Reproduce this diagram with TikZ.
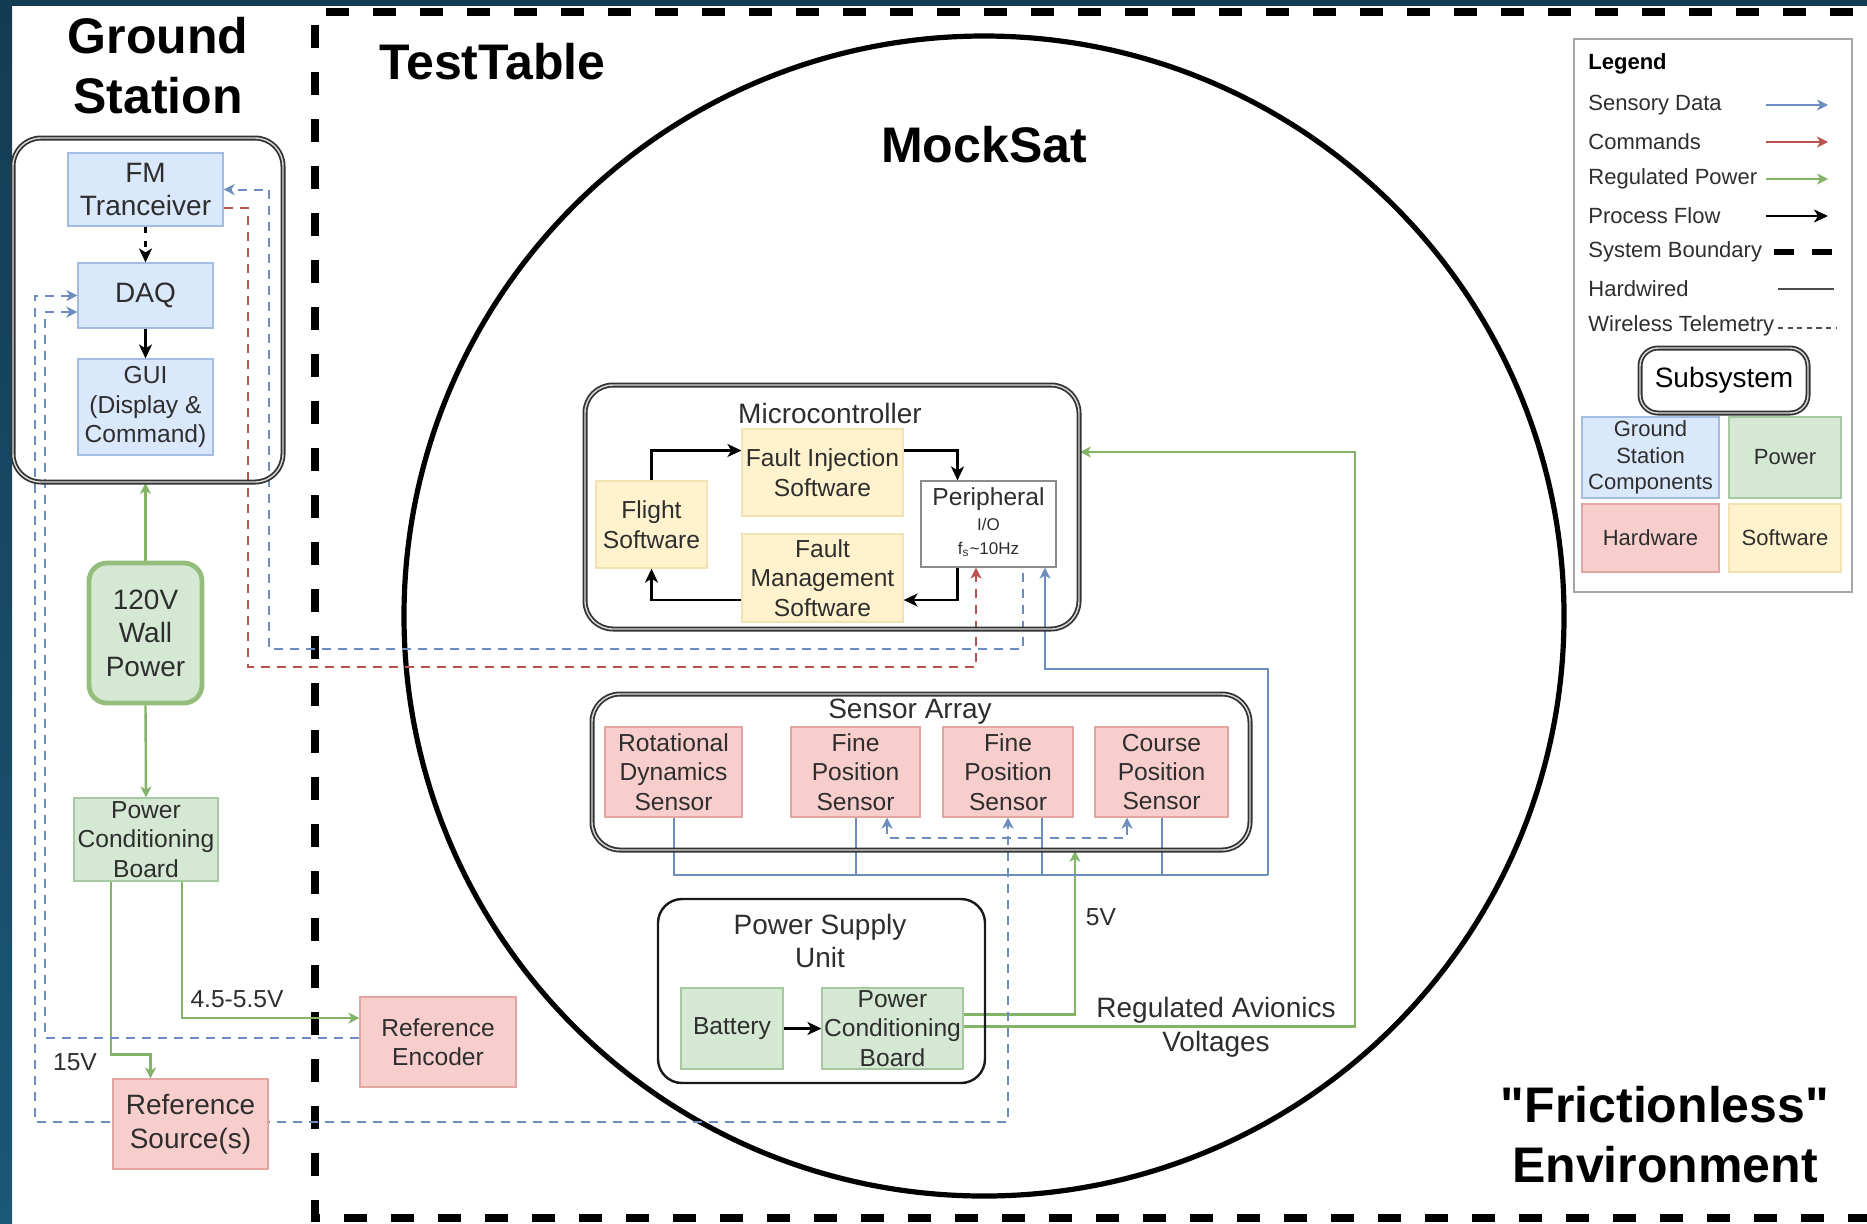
\documentclass[tikz,border=0pt]{standalone}
\usepackage{fontspec}
\setmainfont{Liberation Sans}[Ligatures=TeXOff]
\usetikzlibrary{arrows.meta,calc}
\pgfdeclarelayer{back}
\pgfdeclarelayer{wires}
\pgfsetlayers{back,wires,main}

\definecolor{frameA}{HTML}{133C53}
\definecolor{frameB}{HTML}{1B5778}
\definecolor{txtc}{HTML}{2E2E2E}
\definecolor{gsfill}{HTML}{DAE8FC}
\definecolor{gsline}{HTML}{A3BCDF}
\definecolor{pwfill}{HTML}{D5E8D4}
\definecolor{pwline}{HTML}{A6C9A2}
\definecolor{hwfill}{HTML}{F8CECC}
\definecolor{hwline}{HTML}{E2A6A2}
\definecolor{swfill}{HTML}{FFF2CC}
\definecolor{swline}{HTML}{F3E2B2}
\definecolor{sensc}{HTML}{6C8EBF}
\definecolor{cmdc}{HTML}{B85450}
\definecolor{pwrc}{HTML}{82B366}

\newcommand\ftitle{\fontsize{25}{30}\selectfont\bfseries}
\newcommand\fmed{\fontsize{14}{16.8}\selectfont}
\newcommand\fsml{\fontsize{12.3}{14.7}\selectfont}
\newcommand\fleg{\fontsize{11}{13.2}\selectfont}
\newcommand\ftny{\fontsize{8.5}{10}\selectfont}

\tikzset{
  txt/.style={text=txtc, align=center, inner sep=0pt},
  ttl/.style={text=black, align=center, inner sep=0pt, font=\ftitle},
  subt/.style={txt, font=\fmed},
  cbox/.style={txt, font=\fsml, line width=0.6pt},
  gsb/.style={cbox, fill=gsfill, draw=gsline},
  pwb/.style={cbox, fill=pwfill, draw=pwline},
  hwb/.style={cbox, fill=hwfill, draw=hwline},
  swb/.style={cbox, fill=swfill, draw=swline},
  subsys/.style={draw=black!80, double=black!15, double distance=0.7pt,
                 line width=0.9pt, rounded corners=14pt, inner sep=0pt},
  psubox/.style={draw=black!90, line width=1.2pt, rounded corners=12pt, inner sep=0pt},
  wallbox/.style={draw=pwrc!85, line width=2.4pt, rounded corners=9pt},
  ltxt/.style={text=txtc, inner sep=0pt, anchor=west, font=\fleg},
  stip/.tip={Stealth[length=5.5pt,width=5.5pt,inset=1.6pt]},
  btip/.tip={Stealth[length=7pt,width=6.5pt,inset=2pt]},
  sens/.style={draw=sensc, line width=1pt},
  cmd/.style={draw=cmdc, line width=1pt},
  pwr/.style={draw=pwrc, line width=1.2pt, -stip},
  wless/.style={dash pattern=on 4.5pt off 3.5pt},
  proc/.style={draw=black, line width=1.3pt, -btip},
  sysb/.style={draw=black, line width=3.6pt, dash pattern=on 11.5pt off 12pt},
}

\begin{document}
\begin{tikzpicture}[x=0.5pt,y=-0.5pt]
\useasboundingbox (0,0) rectangle (1867,1223);
\clip (0,0) rectangle (1867,1223);

% ---------- page, frame, boundary, satellite outline ----------
\begin{pgfonlayer}{back}
  \fill[white] (0,0) rectangle (1867,1223);
  \shade[top color=frameA, bottom color=frameB] (0,0) rectangle (12,1223);
  \fill[frameA] (0,0) rectangle (1867,6);
  \draw[sysb] (1900,12) -- (315,12) -- (315,1218) -- (1900,1218);
  \draw[line width=2.6pt] (984,616) circle [radius=580];
\end{pgfonlayer}

% ---------- titles ----------
\node[ttl] (tgs) at (158,65.5) {Ground\\Station};
\node[ttl, anchor=west] (ttt) at (379,62) {TestTable};
\node[ttl] (tms) at (984,145) {MockSat};
\node[ttl] (tfe) at (1665,1135) {"Frictionless"\\Environment};

% ---------- ground station ----------
\node[subsys, minimum width=135pt, minimum height=172pt] (gs) at (148,310) {};
\node[gsb, font=\fmed, minimum width=77.5pt, minimum height=36.5pt] (fm) at (145.5,189.5) {FM\\Tranceiver};
\node[gsb, font=\fmed, minimum width=67.5pt, minimum height=32.5pt] (daq) at (145.5,295.5) {DAQ};
\node[gsb, minimum width=67.5pt, minimum height=48pt] (gui) at (145.5,407) {GUI\\(Display \&\\Command)};

\node[pwb, wallbox, font=\fmed, minimum width=56.5pt, minimum height=70pt] (wall) at (145.5,633) {120V\\Wall\\Power};
\node[pwb, minimum width=72pt, minimum height=41.5pt] (pcba) at (146,839.5) {Power\\Conditioning\\Board};
\node[hwb, minimum width=78pt, minimum height=45pt] (renc) at (438,1042) {Reference\\Encoder};
\node[hwb, font=\fmed, minimum width=77.5pt, minimum height=45pt] (rsrc) at (190.5,1124) {Reference\\Source(s)};

\node[txt, font=\fsml] (l45) at (237,999) {4.5-5.5V};
\node[txt, font=\fsml] (l15) at (75,1062) {15V};

% ---------- microcontroller ----------
\node[subsys, minimum width=247pt, minimum height=122pt] (mc) at (832,507) {};
\node[subt] (mct) at (830,413) {Microcontroller};
\node[swb, minimum width=55.5pt, minimum height=43.5pt] (fsw) at (651.5,524.5) {Flight\\Software};
\node[swb, minimum width=80.5pt, minimum height=43.5pt] (fis) at (822.5,472.5) {Fault Injection\\Software};
\node[swb, minimum width=80.5pt, minimum height=44pt] (fms) at (822.5,578) {Fault\\Management\\Software};
\node[draw=black!45, fill=white, line width=0.6pt, minimum width=67.5pt, minimum height=43pt] (pio) at (988.5,524) {};
\node[txt, font=\fsml] (piot) at (988.5,499) {Peripheral};
\node[txt, font=\ftny] (pioa) at (988.5,524) {I/O};
\node[txt, font=\ftny] (piob) at (988.5,549) {f\textsubscript{s}\textasciitilde10Hz};

% ---------- sensor array ----------
\node[subsys, minimum width=329pt, minimum height=78pt] (sa) at (921,772) {};
\node[subt] (sat) at (910,712) {Sensor Array};
\node[hwb, minimum width=68.5pt, minimum height=45pt] (rds) at (673.5,772) {Rotational\\Dynamics\\Sensor};
\node[hwb, minimum width=64.5pt, minimum height=45pt] (fpa) at (855.5,772) {Fine\\Position\\Sensor};
\node[hwb, minimum width=65pt, minimum height=45pt] (fpb) at (1008,772) {Fine\\Position\\Sensor};
\node[hwb, minimum width=66.5pt, minimum height=45pt] (cps) at (1161.5,772) {Course\\Position\\Sensor};

% ---------- power supply unit ----------
\node[psubox, minimum width=163.5pt, minimum height=92pt] (psu) at (821.5,991) {};
\node[subt] (psut) at (820,941) {Power Supply\\Unit};
\node[pwb, minimum width=51pt, minimum height=40.5pt] (bat) at (732,1028.5) {Battery};
\node[pwb, minimum width=70.5pt, minimum height=40.5pt] (pcbb) at (892.5,1028.5) {Power\\Conditioning\\Board};

\node[txt, font=\fsml] (l5) at (1101,917) {5V};
\node[txt, font=\fmed] (lra) at (1216,1027) {Regulated Avionics\\Voltages};

% ---------- legend ----------
\node[draw=gray!70, line width=1.4pt, fill=white, minimum width=139pt, minimum height=276.5pt] (leg) at (1713,315.5) {};
\node[ltxt, font=\fleg\bfseries, text=black] (lgt) at (1588,64) {Legend};
\node[ltxt] (lsd) at (1588,105) {Sensory Data};
\node[ltxt] (lcm) at (1588,142) {Commands};
\node[ltxt] (lrp) at (1588,179) {Regulated Power};
\node[ltxt] (lpf) at (1588,216) {Process Flow};
\node[ltxt] (lsb) at (1588,252) {System Boundary};
\node[ltxt] (lhw) at (1588,289) {Hardwired};
\node[ltxt] (lwt) at (1588,326) {Wireless Telemetry};
\coordinate (ka) at (1766,0);
\coordinate (kb) at (1828,0);
\draw[sens, -stip] (ka |- lsd) -- (kb |- lsd);
\draw[cmd, -stip] (ka |- lcm) -- (kb |- lcm);
\draw[pwr] (ka |- lrp) -- (kb |- lrp);
\draw[black, line width=1.1pt, -btip] (ka |- lpf) -- (kb |- lpf);
\draw[black, line width=3pt, dash pattern=on 10pt off 9pt] ($(ka |- lsb)+(8,0)$) -- ($(kb |- lsb)+(6,0)$);
\draw[black!70, line width=1pt] ($(ka |- lhw)+(12,0)$) -- ($(kb |- lhw)+(6,0)$);
\draw[black!70, line width=0.8pt, dash pattern=on 2.6pt off 2.2pt] ($(ka |- lwt)+(12,2)$) -- ($(kb |- lwt)+(8,2)$);
\node[subsys, rounded corners=9pt, font=\fmed, text=black, minimum width=84pt, minimum height=32.5pt] (lsub) at (1724,380.5) {Subsystem};
\node[gsb, font=\fleg, minimum width=68.5pt, minimum height=40.5pt] (lgs) at (1650.5,457.5) {Ground\\Station\\Components};
\node[pwb, font=\fleg, minimum width=56pt, minimum height=40.5pt] (lpw) at (1785,457.5) {Power};
\node[hwb, font=\fleg, minimum width=68.5pt, minimum height=34pt] (lhd) at (1650.5,538) {Hardware};
\node[swb, font=\fleg, minimum width=56pt, minimum height=34pt] (lsw) at (1785,538) {Software};

% ---------- connectors ----------
\coordinate (tb) at (269,649);
\coordinate (tr) at (248,667);
\coordinate (ob) at (35,1122);
\coordinate (ib) at (45,1038);
\coordinate (sd) at (1127,838);
\coordinate (bus) at (1268,875);
\coordinate (bust) at (1268,669);
\coordinate (rv) at (1355,452);

\begin{pgfonlayer}{wires}
  % process flow
  \draw[proc, dash pattern=on 3pt off 4pt] (fm.south) -- (daq.north);
  \draw[proc] (daq.south) -- (gui.north);
  \draw[proc] (fsw.north) |- ($(fis.west)+(0,-22)$);
  \draw[proc] ($(fis.east)+(0,-22)$) -| ($(pio.north)+(-31,0)$);
  \draw[proc] ($(pio.south)+(-31,0)$) |- ($(fms.east)+(0,22)$);
  \draw[proc] ($(fms.west)+(0,22)$) -| (fsw.south);
  \draw[proc] (bat) -- (pcbb);

  % regulated power
  \draw[pwr] (wall.north) -- (wall.north |- gs.south);
  \draw[pwr] (wall.south) -- (pcba.north);
  \draw[pwr] ($(pcba.south)+(-35,0)$) |- ($(rsrc.north)+(-40,-24)$) -- ($(rsrc.north)+(-40,0)$);
  \draw[pwr] ($(pcba.south)+(36,0)$) |- ($(renc.west)+(0,-24)$);
  \draw[pwr] ($(pcbb.east)+(0,-14)$) -| ($(sa.south)+(154,0)$);
  \draw[pwr] ($(pcbb.east)+(0,-2)$) -| (rv) -- ($(mc.east)+(0,-55)$);

  % hardwired sensor data
  \draw[sens] (rds.south) |- (bus);
  \draw[sens] (fpa.south) -- (fpa.south |- bus);
  \draw[sens] ($(fpb.south)+(34,0)$) -- ($(fpb.south)+(34,58)$);
  \draw[sens] (cps.south) -- (cps.south |- bus);
  \draw[sens, -stip] (bus) -- (bust) -| ($(pio.south)+(56.5,0)$);

  % wireless telemetry
  \draw[sens, wless, -stip] ($(pio.south)+(34.5,5)$) |- (tb) |- (fm.east);
  \draw[cmd, wless, -stip] ($(fm.east)+(0,18.5)$) -| (tr) -| ($(pio.south)+(-12.5,0)$);
  \draw[sens, wless, stip-stip] (daq.west) -| (ob) -| (fpb.south);
  \draw[sens, wless, stip-] ($(daq.west)+(0,16.5)$) -| (ib) -- (renc.west |- ib);
  \draw[sens, wless, stip-stip] ($(fpa.south)+(31.5,0)$) |- (sd) -- ($(cps.south)+(-34.5,0)$);
\end{pgfonlayer}
\end{tikzpicture}
\end{document}
